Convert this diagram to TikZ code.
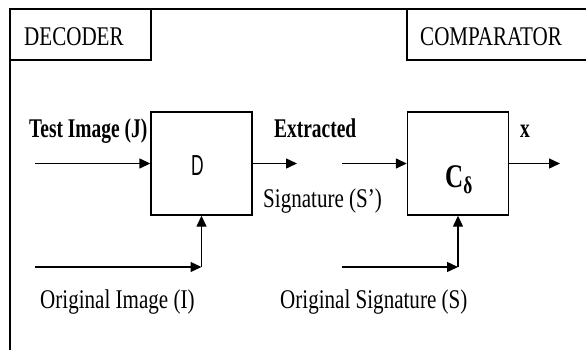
\documentclass[tikz,border=0pt]{standalone}
\usepackage{fontspec}
\setmainfont{Liberation Serif}
\newfontfamily\arialf{Liberation Sans}
\usetikzlibrary{arrows.meta}
\newcommand\rtxt[1]{\scalebox{0.78}[1]{\fontsize{27}{30}\selectfont #1}}
\newcommand\btxt[1]{\scalebox{0.72}[1]{\fontsize{27}{30}\selectfont\bfseries #1}}
\tikzset{
  lbl/.style={inner sep=0pt, anchor=base west},
  blk/.style={draw, line width=1.4pt, minimum width=101pt, minimum height=103pt, inner sep=0pt},
  conn/.style={line width=1.4pt, -{Triangle[length=11pt,width=10pt]}},
  frm/.style={draw, line width=1.4pt},
}
\begin{document}
\begin{tikzpicture}[x=1pt,y=-1pt]
\clip (0,0) rectangle (586,349);
\fill[white] (0,0) rectangle (586,349);
% frame and title boxes
\draw[frm] (10,9) rectangle (620,380);
\draw[frm] (10,9) rectangle (151,60);
\draw[frm] (407,9) rectangle (620,60);
\node[lbl] (dec) at (24,45) {\rtxt{DECODER}};
\node[lbl] (cmp) at (420,45) {\rtxt{COMPARATOR}};
% blocks
\node[blk] (D) at (201.5,163.5) {};
\node[blk] (C) at (458,163.5) {};
\node[inner sep=0pt, anchor=base] (Dl) at (197.5,175.5) {\scalebox{0.6}[1]{\fontsize{29}{31}\arialf D}};
\node[lbl] (Cl) at (445,187) {\scalebox{0.76}[1]{\fontsize{33}{35}\selectfont\bfseries C}\raisebox{-6pt}{\scalebox{0.72}[1]{\fontsize{24}{26}\selectfont\bfseries δ}}};
% labels
\node[lbl] (tl) at (29,137) {\btxt{Test Image (J)}};
\node[lbl] (el) at (274,137) {\btxt{Extracted}};
\node[lbl] (xl) at (520,137) {\btxt{x}};
\node[lbl] (sl) at (263,207) {\rtxt{Signature (S’)}};
\node[lbl] (oil) at (40,308) {\rtxt{Original Image (I)}};
\node[lbl] (osl) at (280,308) {\rtxt{Original Signature (S)}};
% connectors
\coordinate (tj) at (35,163.5);
\coordinate (ext) at (297,163.5);
\coordinate (sin) at (342,163.5);
\coordinate (xo) at (560,163.5);
\coordinate (oi) at (35,267);
\coordinate (oic) at (201.5,267);
\coordinate (os) at (342,267);
\coordinate (osc) at (458,267);
\draw[conn] (tj) -- (D.west);
\draw[conn] (D.east) -- (ext);
\draw[conn] (sin) -- (C.west);
\draw[conn] (C.east) -- (xo);
\draw[conn] (oi) -- (oic);
\draw[conn] (oic) -- (D.south);
\draw[conn] (os) -- (osc);
\draw[conn] (osc) -- (C.south);
\end{tikzpicture}
\end{document}
